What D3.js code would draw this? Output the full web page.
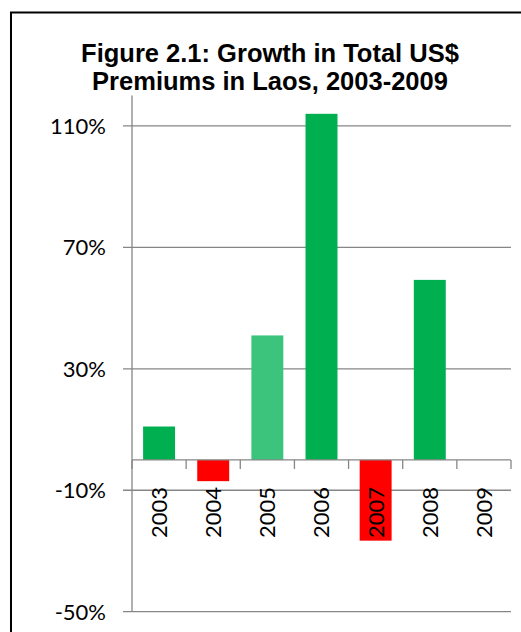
<!DOCTYPE html>
<html>
<head>
<meta charset="utf-8">
<script src="https://cdn.jsdelivr.net/npm/d3@7"></script>
<style>
  html,body{margin:0;padding:0;background:#fff;}
  svg{display:block;}
  .title{font-family:"Liberation Sans",Arial,sans-serif;font-weight:bold;font-size:25.5px;fill:#000;}
  .tick-label{font-family:Lato,"Open Sans",sans-serif;font-size:22px;fill:#000;}
</style>
</head>
<body>
<svg id="chart" width="521" height="632"></svg>
<script>
// 数据
const years = ['2003','2004','2005','2006','2007','2008','2009'];
const growth = [11, -7, 41, 114, -26.6, 59.3, null];
const barColors = ['#00b050','#ff0000','#3cc47c','#00b050','#ff0000','#00b050','#00b050'];
const yTicks = [-50, -10, 30, 70, 110];
const titleLines = ['Figure 2.1: Growth in Total US$', 'Premiums in Laos, 2003-2009'];

(function(){
  const svg = d3.select('#chart');
  const left = 132, right = 511, top = 95.6, bottom = 611.7;
  const axisColor = '#868686';

  // 外框（仅上、左可见）
  svg.append('rect')
    .attr('x', 11).attr('y', 12.5).attr('width', 700).attr('height', 800)
    .attr('fill', 'none').attr('stroke', '#000').attr('stroke-width', 2);

  // 标题
  svg.append('text').attr('class','title')
    .attr('text-anchor','middle')
    .selectAll('tspan').data(titleLines).enter()
    .append('tspan')
    .attr('x', 270)
    .attr('y', (d,i)=> 61.5 + i*28.7)
    .text(d=>d);

  const x = d3.scaleBand().domain(years).range([left, right]).paddingInner(0.41).paddingOuter(0.205);
  const xTick = d3.scaleBand().domain(years).range([left, right]);
  const y = d3.scaleLinear().domain([-50, 120]).range([bottom, top]);

  // 网格线
  svg.append('g').selectAll('line').data(yTicks).enter()
    .append('line')
    .attr('x1', left - 9).attr('x2', right)
    .attr('y1', d=>y(d)).attr('y2', d=>y(d))
    .attr('stroke', axisColor).attr('stroke-width', 1.3);

  // y 轴标签
  svg.append('g').selectAll('text').data(yTicks).enter()
    .append('text').attr('class','tick-label')
    .attr('x', 106).attr('y', d=>y(d)).attr('dy','0.36em')
    .attr('text-anchor','end')
    .text(d=>d + '%');

  // 柱子
  svg.append('g').selectAll('rect').data(years.map((yr,i)=>({yr, v:growth[i], c:barColors[i]})).filter(d=>d.v!=null))
    .enter().append('rect')
    .attr('x', d=>x(d.yr))
    .attr('width', x.bandwidth())
    .attr('y', d=>y(Math.max(0,d.v)))
    .attr('height', d=>Math.abs(y(d.v)-y(0)))
    .attr('fill', d=>d.c);

  // y 轴
  svg.append('line')
    .attr('x1', left).attr('x2', left).attr('y1', top).attr('y2', bottom)
    .attr('stroke', axisColor).attr('stroke-width', 1.3);

  // x 轴（在 0 处）
  const y0 = y(0);
  svg.append('line')
    .attr('x1', left).attr('x2', right).attr('y1', y0).attr('y2', y0)
    .attr('stroke', axisColor).attr('stroke-width', 1.3);
  const tickXs = years.map(d=>xTick(d)).concat([right]);
  svg.append('g').selectAll('line').data(tickXs).enter()
    .append('line')
    .attr('x1', d=>d).attr('x2', d=>d).attr('y1', y0).attr('y2', y0 + 9)
    .attr('stroke', axisColor).attr('stroke-width', 1.3);

  // x 轴标签（竖排）
  svg.append('g').selectAll('text').data(years).enter()
    .append('text').attr('class','tick-label')
    .attr('transform', d=>`translate(${xTick(d)+xTick.bandwidth()/2},${y0+27}) rotate(-90)`)
    .attr('text-anchor','end')
    .attr('dy','0.36em')
    .text(d=>d);
})();
</script>
</body>
</html>
